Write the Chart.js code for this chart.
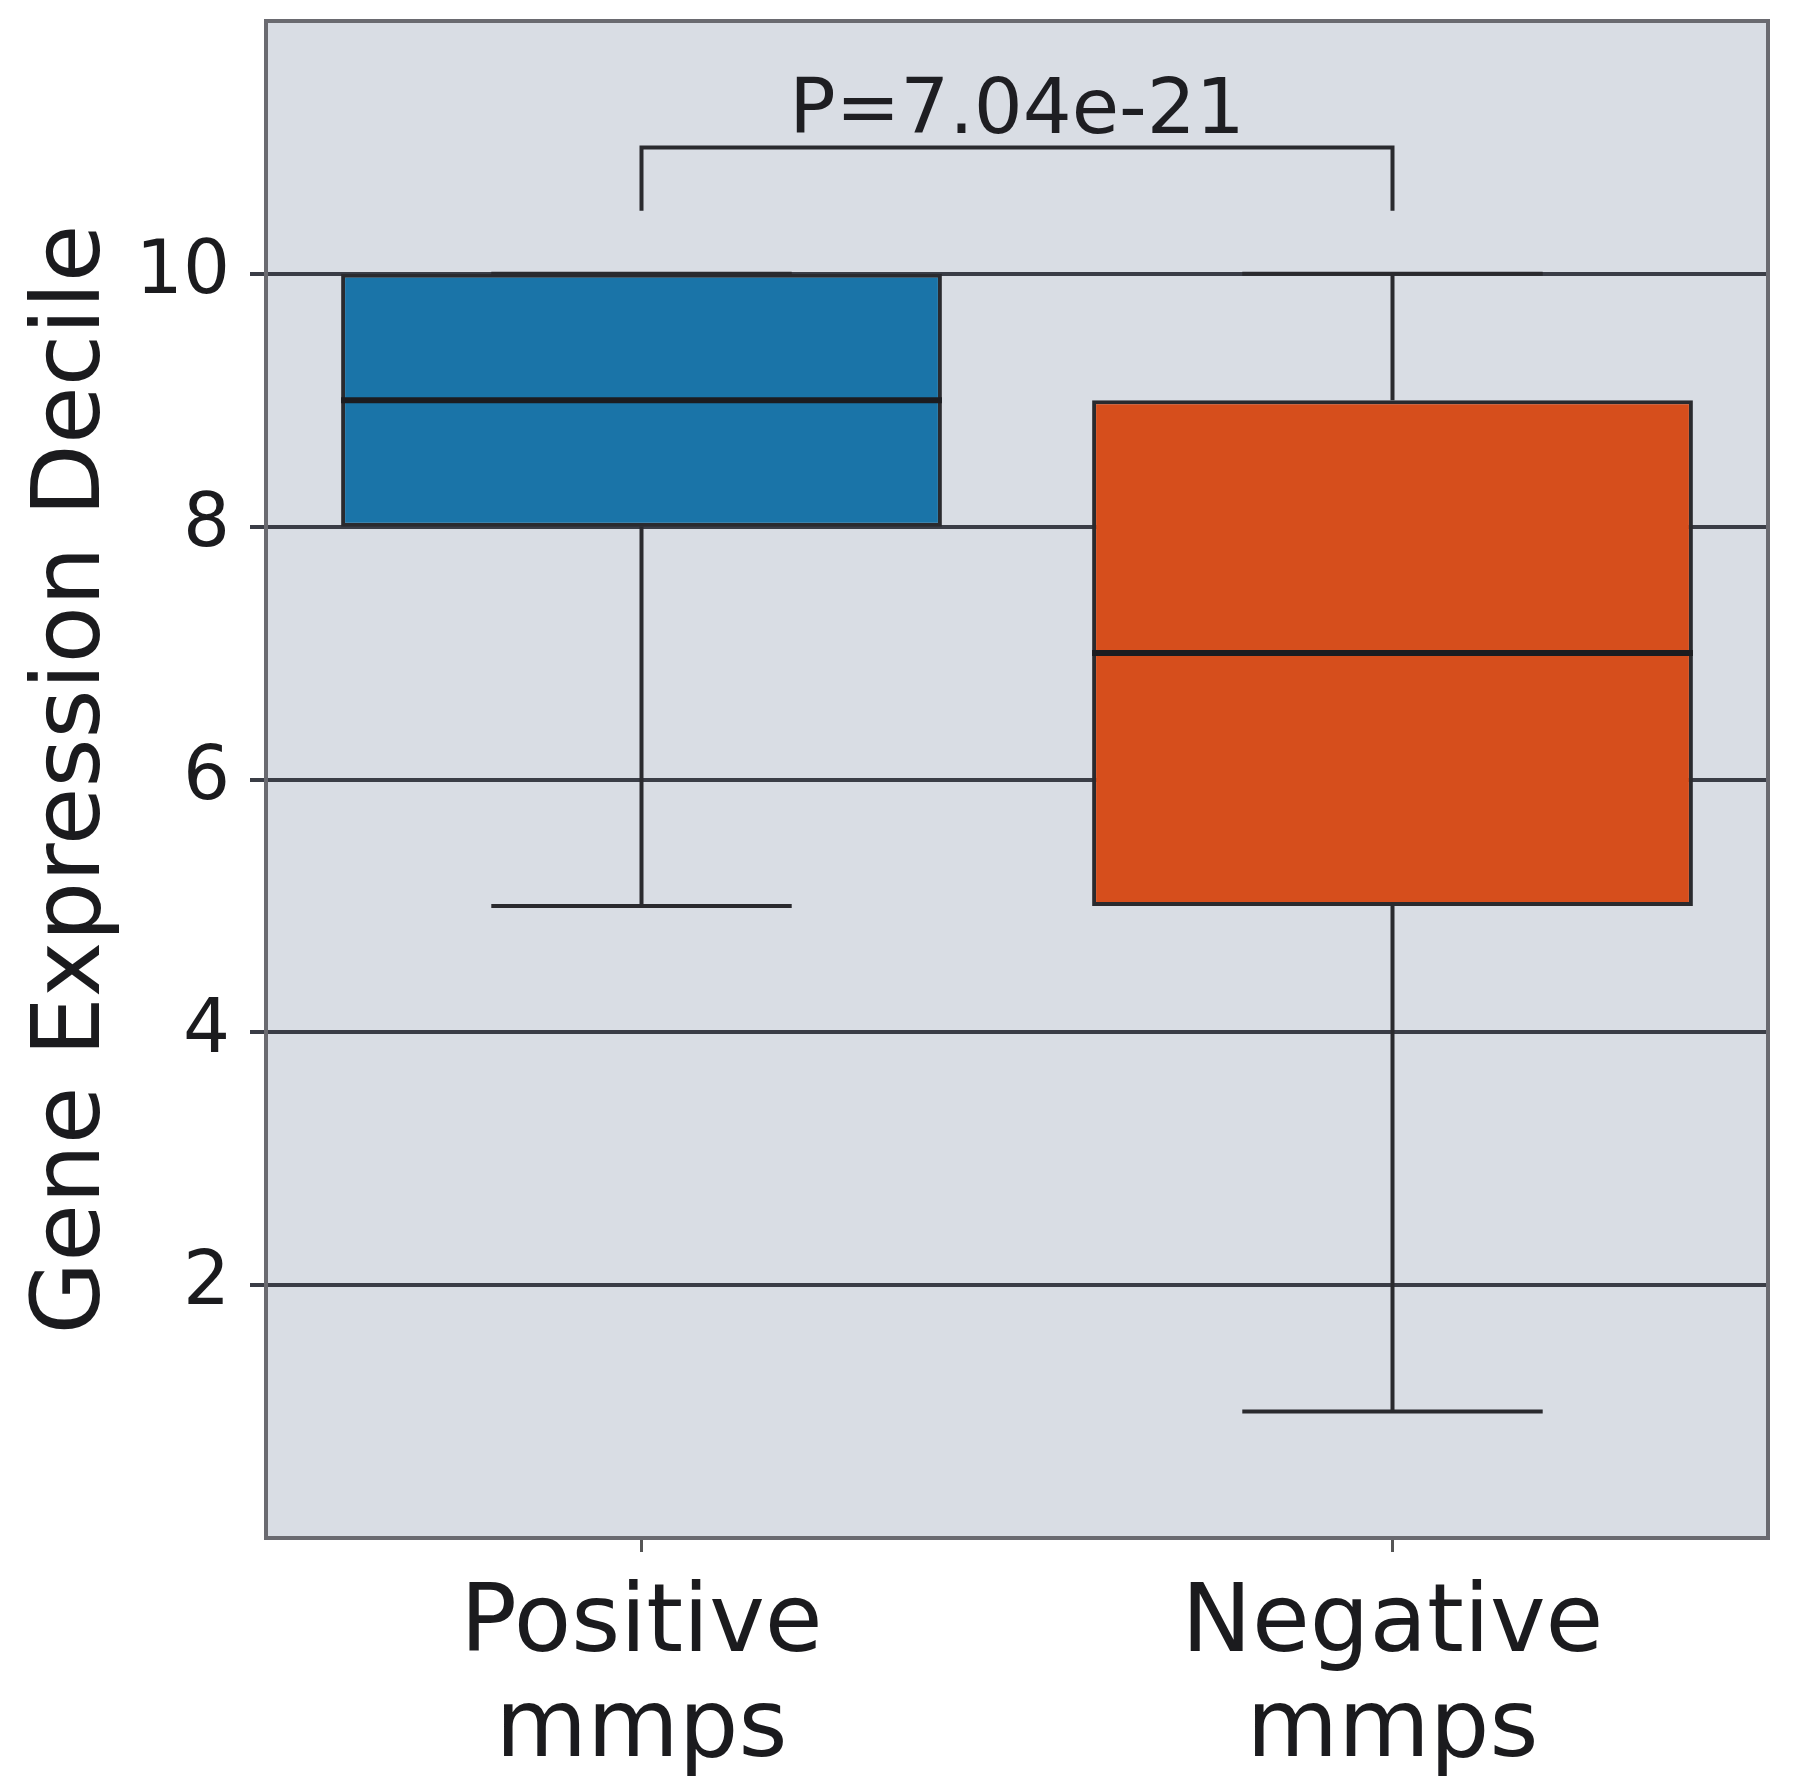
<!DOCTYPE html>
<html>
<head>
<meta charset="utf-8">
<script src="https://cdn.jsdelivr.net/npm/chart.js@4.4.1/dist/chart.umd.min.js"></script>
<style>
  body { margin: 0; background: #fff; }
  #wrap { width: 1800px; height: 1790px; }
</style>
</head>
<body>
<div id="wrap"><canvas id="graph1"></canvas></div>
<script>
// box plot data
const categories = [["Positive", "mmps"], ["Negative", "mmps"]];
const whiskerLow = [5, 1];
const q1 = [8, 5];
const median = [9, 7];
const q3 = [10, 9];
const whiskerHigh = [10, 10];
const boxColors = ["#1a74a8", "#d64e1c"];
const yTicks = [2, 4, 6, 8, 10];
const pText = "P=7.04e-21";
const bracketTop = 11;
const bracketEnd = 10.5;

const ink = "#2a2a2e";

const boxPlugin = {
  id: "boxbits",
  beforeDraw(chart) {
    const a = chart.chartArea, c = chart.ctx;
    c.save();
    c.fillStyle = "#d9dde4";
    c.fillRect(a.left, a.top, a.right - a.left, a.bottom - a.top);
    c.restore();
  },
  afterDatasetsDraw(chart) {
    const c = chart.ctx, y = chart.scales.y, a = chart.chartArea;
    const meta = chart.getDatasetMeta(0);
    c.save();
    c.strokeStyle = ink;
    c.lineCap = "butt";
    meta.data.forEach((bar, i) => {
      const x = bar.x, w = bar.width;
      c.lineWidth = 4;
      c.beginPath();
      // whiskers
      c.moveTo(x, y.getPixelForValue(q3[i]));
      c.lineTo(x, y.getPixelForValue(whiskerHigh[i]));
      c.moveTo(x, y.getPixelForValue(q1[i]));
      c.lineTo(x, y.getPixelForValue(whiskerLow[i]));
      // caps
      c.moveTo(x - w / 4, y.getPixelForValue(whiskerHigh[i]));
      c.lineTo(x + w / 4, y.getPixelForValue(whiskerHigh[i]));
      c.moveTo(x - w / 4, y.getPixelForValue(whiskerLow[i]));
      c.lineTo(x + w / 4, y.getPixelForValue(whiskerLow[i]));
      c.stroke();
      // median
      c.lineWidth = 6;
      c.strokeStyle = "#1c1c20";
      c.beginPath();
      c.moveTo(x - w / 2, y.getPixelForValue(median[i]));
      c.lineTo(x + w / 2, y.getPixelForValue(median[i]));
      c.stroke();
      c.strokeStyle = ink;
    });
    // significance bracket
    const x1 = meta.data[0].x, x2 = meta.data[1].x;
    const yt = y.getPixelForValue(bracketTop), ye = y.getPixelForValue(bracketEnd);
    c.lineWidth = 4;
    c.beginPath();
    c.moveTo(x1, ye);
    c.lineTo(x1, yt);
    c.lineTo(x2, yt);
    c.lineTo(x2, ye);
    c.stroke();
    c.fillStyle = "#1e1e22";
    c.font = "77px 'DejaVu Sans'";
    c.textAlign = "center";
    c.textBaseline = "alphabetic";
    c.fillText(pText, (x1 + x2) / 2, yt - 14);
    // frame
    c.strokeStyle = "#6a6a70";
    c.lineWidth = 4;
    c.strokeRect(a.left, a.top, a.right - a.left, a.bottom - a.top);
    c.restore();
  }
};

let myChart = new Chart(document.getElementById("graph1").getContext("2d"), {
  type: "bar",
  data: {
    labels: categories,
    datasets: [
      {
        data: q1.map((v, i) => [v, q3[i]]),
        backgroundColor: boxColors,
        borderColor: ink,
        borderWidth: 4,
        borderSkipped: false,
        categoryPercentage: 0.8,
        barPercentage: 1.0,
      },
    ],
  },
  options: {
    responsive: true,
    maintainAspectRatio: false,
    animation: false,
    plugins: {
      legend: { display: false },
      tooltip: { enabled: false },
    },
    layout: {
      padding: { top: 21, right: 32, left: 0, bottom: 0 },
    },
    scales: {
      x: {
        grid: { drawOnChartArea: false, offset: false, tickLength: 14, color: "#555", lineWidth: 3 },
        border: { color: "#6a6a70", width: 4 },
        ticks: {
          font: { family: "DejaVu Sans", size: 94, lineHeight: 1.12 },
          color: "#1b1b1e",
          padding: 22,
          maxRotation: 0,
        },
        afterFit(scale) {
          scale.height = 252;
          scale.paddingLeft = 0;
          scale.paddingRight = 0;
        },
      },
      y: {
        min: 0,
        max: 12,
        afterBuildTicks(scale) { scale.ticks = yTicks.map(v => ({ value: v })); },
        grid: { color: "#3a3d46", lineWidth: 4, tickLength: 16 },
        border: { color: "#6a6a70", width: 4 },
        ticks: {
          font: { family: "DejaVu Sans", size: 74 },
          color: "#1b1b1e",
          padding: 20,
        },
        title: {
          display: true,
          text: "Gene Expression Decile",
          font: { family: "DejaVu Sans", size: 94 },
          color: "#1b1b1e",
          padding: { top: 18, bottom: 0 },
        },
        afterFit(scale) {
          scale.width = 266;
          scale.paddingTop = 0;
          scale.paddingBottom = 0;
        },
      },
    },
  },
  plugins: [boxPlugin],
});
</script>
</body>
</html>
